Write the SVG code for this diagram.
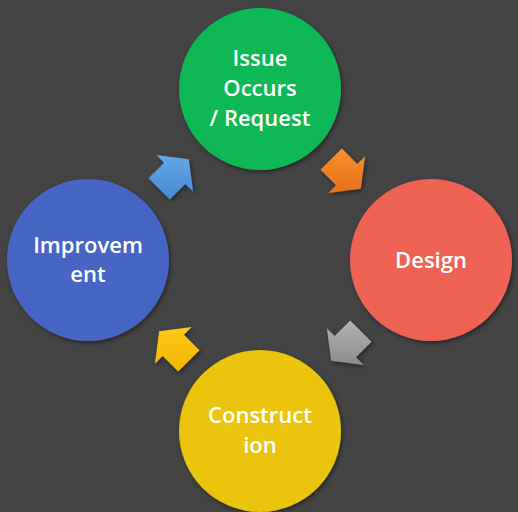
<svg xmlns="http://www.w3.org/2000/svg" width="518" height="512" viewBox="0 0 518 512">
  <defs>
    <filter id="sh" x="-20%" y="-20%" width="140%" height="140%">
      <feDropShadow dx="1.5" dy="2" stdDeviation="2" flood-color="#000" flood-opacity="0.45"/>
    </filter>
    <linearGradient id="gOr" gradientUnits="userSpaceOnUse" x1="0" y1="148" x2="0" y2="193">
      <stop offset="0" stop-color="#f7912f"/><stop offset="1" stop-color="#e8701c"/>
    </linearGradient>
    <linearGradient id="gGr" gradientUnits="userSpaceOnUse" x1="0" y1="320" x2="0" y2="365">
      <stop offset="0" stop-color="#b2b2b2"/><stop offset="1" stop-color="#8c8c8c"/>
    </linearGradient>
    <linearGradient id="gYe" gradientUnits="userSpaceOnUse" x1="0" y1="327" x2="0" y2="372">
      <stop offset="0" stop-color="#ffc81c"/><stop offset="1" stop-color="#f2b600"/>
    </linearGradient>
    <linearGradient id="gBl" gradientUnits="userSpaceOnUse" x1="0" y1="155" x2="0" y2="200">
      <stop offset="0" stop-color="#64a8e6"/><stop offset="1" stop-color="#4888d2"/>
    </linearGradient>
  </defs>
  <style>
    .c { filter: url(#sh); }
    .t { font-family: "Open Sans", "Liberation Sans", Arial, sans-serif; font-size: 22px; font-weight: 600; fill: #ffffff; text-anchor: middle; }
    .a { filter: url(#sh); }
  </style>
  <rect width="518" height="512" fill="#434343"/>

  <g id="connectors">
    <polygon class="a" fill="url(#gOr)" points="341.8,148.5 357.3,164.1 365.1,156.3 360.8,188.8 328.3,193.1 336.1,185.3 320.5,169.8"/>
    <polygon class="a" fill="url(#gGr)" points="371.5,341.8 355.9,357.3 363.7,365.1 331.2,360.8 326.9,328.3 334.7,336.1 350.2,320.5"/>
    <polygon class="a" fill="url(#gYe)" points="178.2,371.5 162.7,355.9 154.9,363.7 159.2,331.2 191.7,326.9 183.9,334.7 199.5,350.2"/>
    <polygon class="a" fill="url(#gBl)" points="148.5,178.2 164.1,162.7 156.3,154.9 188.8,159.2 193.1,191.7 185.3,183.9 169.8,199.5"/>
  </g>

  <g id="issue">
    <circle class="c" cx="260" cy="89" r="81" fill="#0fb854"/>
    <text class="t" x="260" y="66">Issue</text>
    <text class="t" x="260" y="96">Occurs</text>
    <text class="t" x="260" y="126">/ Request</text>
  </g>
  <g id="design">
    <circle class="c" cx="431" cy="260" r="81" fill="#ee6452"/>
    <text class="t" x="431" y="268">Design</text>
  </g>
  <g id="construction">
    <circle class="c" cx="260" cy="431" r="81" fill="#ebc40a"/>
    <text class="t" x="260" y="423">Construct</text>
    <text class="t" x="260" y="453">ion</text>
  </g>
  <g id="improvement">
    <circle class="c" cx="88" cy="260" r="81" fill="#4766c4"/>
    <text class="t" x="88" y="253">Improvem</text>
    <text class="t" x="88" y="282">ent</text>
  </g>
</svg>
